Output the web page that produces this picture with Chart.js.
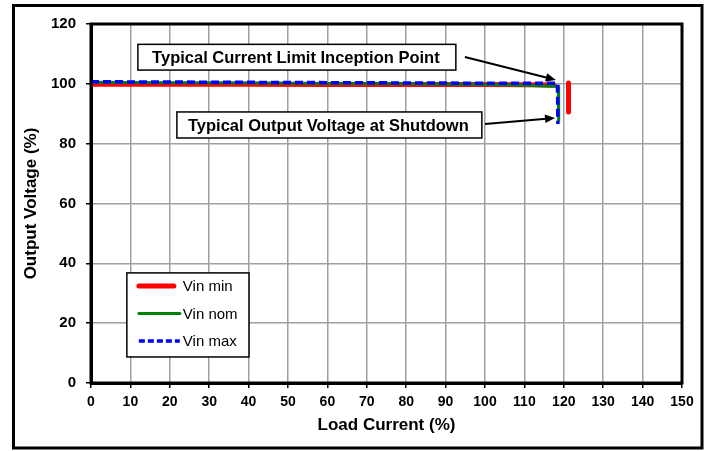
<!DOCTYPE html>
<html>
<head>
<meta charset="utf-8">
<title>Output Voltage vs Load Current</title>
<script src="https://cdn.jsdelivr.net/npm/chart.js@4.4.1/dist/chart.umd.min.js"></script>
<style>
    html, body { margin: 0; padding: 0; background: #fff; }
    #wrap { width: 709px; height: 451px; }
</style>
</head>
<body>
<div id="wrap"><canvas id="curveChart" width="709" height="451"></canvas></div>
<script>
// ===== DATA =====
const vinMinLoad = [0, 20, 40, 60, 80, 100, 110, 117.5, null, 121.2, 121.2];
const vinMinOut = [99.9, 99.9, 99.9, 99.8, 99.8, 99.8, 99.7, 99.6, null, 100.3, 90.6];

const vinNomLoad = [0, 20, 40, 60, 80, 100, 110, 118.6, 118.7];
const vinNomOut = [100.5, 100.4, 100.3, 100.1, 100.0, 99.8, 99.5, 99.1, 87.4];

const vinMaxLoad = [0, 20, 40, 60, 80, 100, 110, 118.4, 118.5];
const vinMaxOut = [100.7, 100.6, 100.5, 100.4, 100.3, 100.2, 100.2, 100.2, 86.6];

const seriesNames = ['Vin min', 'Vin nom', 'Vin max'];
const xTitle = 'Load Current (%)';
const yTitle = 'Output Voltage (%)';

const noteLimit = 'Typical Current Limit Inception Point';
const noteShutdown = 'Typical Output Voltage at Shutdown';

(function () {
    'use strict';

    const FONT = '"Liberation Sans", Arial, sans-serif';

    // build {x, y} points, null in load = break in the line
    function toPoints(xs, ys) {
        return xs.map(function (x, i) {
            return { x: x === null ? NaN : x, y: ys[i] === null ? NaN : ys[i] };
        });
    }

    /**
     * Outer frame + plot border
     */
    const framePlugin = {
        id: 'frame',
        afterDraw: function (chart) {
            const ctx = chart.ctx;
            const a = chart.chartArea;
            ctx.save();
            ctx.strokeStyle = '#000';
            ctx.lineWidth = 3;
            ctx.strokeRect(a.left, a.top, a.right - a.left, a.bottom - a.top);
            ctx.strokeRect(13.5, 5.5, 688.5, 442.5);
            ctx.restore();
        }
    };

    /**
     * Text boxes with arrows (anchored in data units)
     */
    function drawArrow(ctx, x1, y1, x2, y2) {
        const ang = Math.atan2(y2 - y1, x2 - x1);
        const len = 11;
        ctx.beginPath();
        ctx.moveTo(x1, y1);
        ctx.lineTo(x2 - Math.cos(ang) * 6, y2 - Math.sin(ang) * 6);
        ctx.stroke();
        ctx.beginPath();
        ctx.moveTo(x2, y2);
        ctx.lineTo(x2 - len * Math.cos(ang - 0.4), y2 - len * Math.sin(ang - 0.4));
        ctx.lineTo(x2 - len * Math.cos(ang + 0.4), y2 - len * Math.sin(ang + 0.4));
        ctx.closePath();
        ctx.fill();
    }

    const notesPlugin = {
        id: 'notes',
        afterDatasetsDraw: function (chart) {
            const ctx = chart.ctx;
            const xs = chart.scales.x;
            const ys = chart.scales.y;
            const notes = [
                { text: noteLimit, box: [11.9, 113.2, 92.6, 104.6], from: [94.9, 109], to: [118.0, 101.3] },
                { text: noteShutdown, box: [21.8, 90.6, 99.2, 81.9], from: [100.0, 86.6], to: [117.8, 88.6] }
            ];
            ctx.save();
            notes.forEach(function (n) {
                const l = xs.getPixelForValue(n.box[0]);
                const t = ys.getPixelForValue(n.box[1]);
                const r = xs.getPixelForValue(n.box[2]);
                const b = ys.getPixelForValue(n.box[3]);
                ctx.fillStyle = '#fff';
                ctx.fillRect(l, t, r - l, b - t);
                ctx.strokeStyle = '#000';
                ctx.lineWidth = 1.5;
                ctx.strokeRect(l, t, r - l, b - t);
                ctx.fillStyle = '#000';
                ctx.font = 'bold 16.5px ' + FONT;
                ctx.textAlign = 'center';
                ctx.textBaseline = 'middle';
                ctx.fillText(n.text, (l + r) / 2 - 1, (t + b) / 2 + 1);

                ctx.lineWidth = 2;
                drawArrow(ctx,
                    xs.getPixelForValue(n.from[0]), ys.getPixelForValue(n.from[1]),
                    xs.getPixelForValue(n.to[0]), ys.getPixelForValue(n.to[1]));
            });
            ctx.restore();
        }
    };

    /**
     * Legend inside the plot (lower left)
     */
    const legendPlugin = {
        id: 'boxLegend',
        afterDatasetsDraw: function (chart) {
            const ctx = chart.ctx;
            const xs = chart.scales.x;
            const ys = chart.scales.y;
            const l = xs.getPixelForValue(9.1);
            const t = ys.getPixelForValue(36.8);
            const r = xs.getPixelForValue(40.1);
            const b = ys.getPixelForValue(8.7);
            ctx.save();
            ctx.fillStyle = '#fff';
            ctx.fillRect(l, t, r - l, b - t);
            ctx.strokeStyle = '#000';
            ctx.lineWidth = 1.5;
            ctx.strokeRect(l, t, r - l, b - t);

            const lineEnds = [35, 41, 41];
            chart.data.datasets.forEach(function (ds, i) {
                const y = t + 13 + i * 27.5;
                ctx.strokeStyle = ds.borderColor;
                ctx.lineWidth = ds.borderWidth;
                ctx.lineCap = i === 2 ? 'butt' : 'round';
                ctx.setLineDash(i === 2 ? [6, 3] : []);
                ctx.beginPath();
                ctx.moveTo(l + 12, y);
                ctx.lineTo(l + 12 + lineEnds[i], y);
                ctx.stroke();
                ctx.setLineDash([]);
                ctx.fillStyle = '#000';
                ctx.font = '15px ' + FONT;
                ctx.textAlign = 'left';
                ctx.textBaseline = 'middle';
                ctx.fillText(ds.label, l + 56, y + 1);
            });
            ctx.restore();
        }
    };

    function initChart() {
        const ctx = document.getElementById('curveChart').getContext('2d');
        const tickFontX = { family: FONT, size: 14, weight: 'bold' };
        const tickFontY = { family: FONT, size: 15, weight: 'bold' };
        const titleFont = { family: FONT, size: 17, weight: 'bold' };

        new Chart(ctx, {
            type: 'line',
            data: {
                datasets: [
                    {
                        label: seriesNames[0],
                        data: toPoints(vinMinLoad, vinMinOut),
                        borderColor: '#ff0000',
                        borderWidth: 5,
                        borderCapStyle: 'round',
                        order: 2
                    },
                    {
                        label: seriesNames[1],
                        data: toPoints(vinNomLoad, vinNomOut),
                        borderColor: '#008000',
                        borderWidth: 3,
                        order: 1
                    },
                    {
                        label: seriesNames[2],
                        data: toPoints(vinMaxLoad, vinMaxOut),
                        borderColor: '#0000ff',
                        borderWidth: 3.5,
                        borderDash: [8, 4],
                        order: 0
                    }
                ]
            },
            options: {
                responsive: false,
                animation: false,
                spanGaps: false,
                layout: { padding: { left: 14, top: 24, right: 27, bottom: 10 } },
                elements: {
                    point: { radius: 0, hoverRadius: 0 },
                    line: { tension: 0, fill: false }
                },
                plugins: {
                    legend: { display: false },
                    tooltip: { enabled: false }
                },
                scales: {
                    x: {
                        type: 'linear',
                        min: 0,
                        max: 150,
                        afterFit: function (scale) { scale.height = 58; },
                        ticks: { stepSize: 10, color: '#000', font: tickFontX, padding: 6, maxRotation: 0 },
                        grid: { color: '#a0a0a0', lineWidth: 1.5, tickColor: '#000', tickLength: 5, tickWidth: 1.5 },
                        border: { color: '#000', width: 3 },
                        title: { display: true, text: xTitle, color: '#000', font: titleFont, padding: { top: 4, bottom: 5 } }
                    },
                    y: {
                        min: 0,
                        max: 120,
                        afterFit: function (scale) { scale.width = 77; },
                        ticks: { stepSize: 20, color: '#000', font: tickFontY, padding: 10 },
                        grid: { color: '#a0a0a0', lineWidth: 1.5, tickColor: '#000', tickLength: 5, tickWidth: 1.5 },
                        border: { color: '#000', width: 3 },
                        title: { display: true, text: yTitle, color: '#000', font: titleFont, padding: { top: 7, bottom: 0 } }
                    }
                }
            },
            plugins: [legendPlugin, notesPlugin, framePlugin]
        });
        console.log('[Chart] drawn');
    }

    initChart();
})();
</script>
</body>
</html>
